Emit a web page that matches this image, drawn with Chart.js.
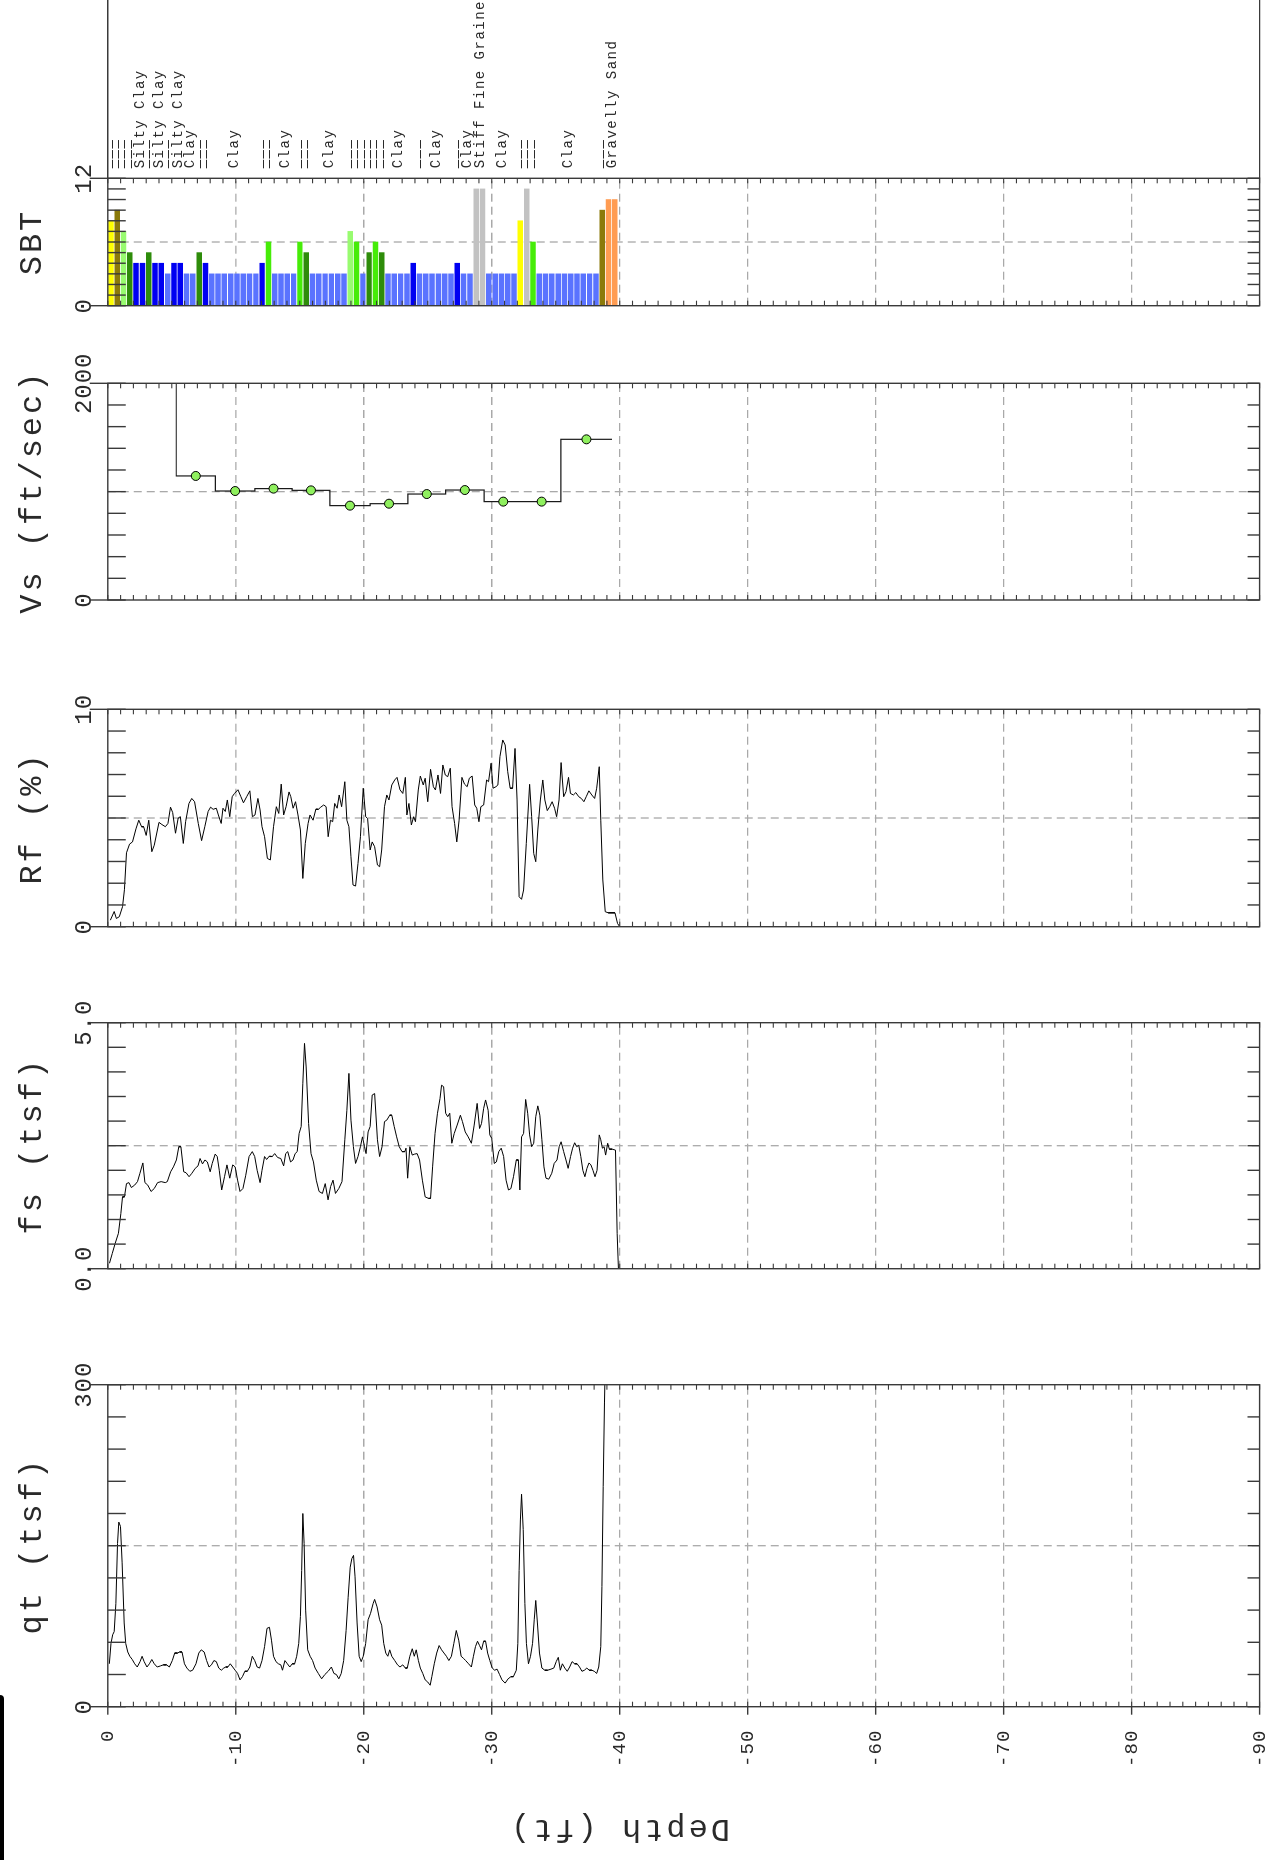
<!DOCTYPE html>
<html>
<head>
<meta charset="utf-8">
<title>CPT log</title>
<script src="https://cdn.jsdelivr.net/npm/chart.js@4.4.1/dist/chart.umd.min.js"></script>
<style>
html,body{margin:0;padding:0;background:#fff;overflow:hidden;width:1273px;height:1860px;}
/* the log is laid out upright (depth down) and turned a quarter turn */
#log{position:absolute;left:0;top:0;width:1860px;height:1273px;transform-origin:0 0;transform:translate(0,1860px) rotate(-90deg);}
#log canvas{position:absolute;top:0;}
#edge{position:absolute;left:0;top:1695px;width:4px;height:165px;background:#000;border-radius:0 5px 0 0;}
</style>
</head>
<body>
<div id="log"></div>
<div id="edge"></div>
<script>
/* =========================
   CPT SOUNDING DATA
========================= */

const depthTicks = [0,-10,-20,-30,-40,-50,-60,-70,-80,-90];

const qtTicks = ["0","300"];
const fsTicks = ["0.0","5.0"];
const rfTicks = ["0","10"];
const vsTicks = ["0","2000"];
const sbtTicks = ["0","12"];

// tip resistance qt (tsf)
const qtDepth = [
-0.12,-0.25,-0.38,-0.5,-0.63,-0.76,-0.86,-0.99,-1.12,-1.28,
-1.4,-1.56,-1.72,-1.91,-2.1,-2.3,-2.52,-2.68,-2.84,-3.06,
-3.25,-3.44,-3.63,-3.86,-4.11,-4.34,-4.59,-4.81,-5.04,-5.23,
-5.45,-5.61,-5.8,-5.99,-6.18,-6.41,-6.63,-6.89,-7.11,-7.3,
-7.53,-7.72,-7.91,-8.1,-8.29,-8.48,-8.67,-8.87,-9.06,-9.22,
-9.38,-9.57,-9.76,-9.95,-10.14,-10.33,-10.52,-10.71,-10.9,-11.1,
-11.29,-11.48,-11.67,-11.86,-12.05,-12.25,-12.44,-12.63,-12.79,-12.95,
-13.14,-13.33,-13.52,-13.65,-13.84,-14.03,-14.22,-14.41,-14.6,-14.76,
-14.92,-15.05,-15.15,-15.24,-15.34,-15.46,-15.62,-15.81,-16.0,-16.2,
-16.45,-16.71,-16.96,-17.22,-17.47,-17.67,-17.86,-18.05,-18.24,-18.43,
-18.62,-18.78,-18.94,-19.07,-19.2,-19.32,-19.48,-19.64,-19.8,-19.96,
-20.15,-20.34,-20.53,-20.73,-20.85,-21.04,-21.24,-21.4,-21.56,-21.72,
-21.88,-22.03,-22.19,-22.42,-22.64,-22.83,-23.05,-23.25,-23.4,-23.6,
-23.79,-23.95,-24.1,-24.27,-24.42,-24.61,-24.8,-25.0,-25.19,-25.32,
-25.51,-25.7,-25.89,-26.08,-26.27,-26.46,-26.65,-26.85,-27.04,-27.23,
-27.42,-27.61,-27.8,-27.96,-28.19,-28.41,-28.57,-28.73,-28.89,-29.05,
-29.2,-29.37,-29.52,-29.68,-29.85,-30.04,-30.23,-30.42,-30.61,-30.8,
-31.05,-31.28,-31.5,-31.69,-31.92,-32.04,-32.14,-32.24,-32.33,-32.46,
-32.59,-32.71,-32.87,-33.03,-33.19,-33.32,-33.44,-33.57,-33.73,-33.92,
-34.15,-34.37,-34.63,-34.85,-35.04,-35.2,-35.36,-35.52,-35.71,-35.9,
-36.09,-36.28,-36.48,-36.67,-36.86,-37.05,-37.24,-37.43,-37.62,-37.82,
-38.01,-38.2,-38.36,-38.52,-38.61,-38.71,-38.81,-38.87,-39.0
];
const qtValue = [
40,59,67,70,96,152,172,168,134,78,
59,51,47,44,40,37,42,47,42,37,
40,44,40,37,38,39,39,37,43,50,
50,51,51,40,36,33,34,40,50,53,
51,43,37,39,43,42,36,34,36,37,
37,40,37,34,31,25,28,33,33,37,
47,43,37,36,43,56,73,74,62,47,
42,40,39,34,43,40,37,40,40,47,
59,84,127,180,152,90,53,47,43,36,
31,26,30,33,37,31,30,26,31,43,
71,102,130,138,141,121,78,47,42,47,
59,81,87,96,100,93,81,76,59,50,
47,53,47,43,39,37,39,36,36,47,
54,47,53,43,36,31,25,23,20,28,
40,50,57,53,50,47,43,47,59,71,
62,47,45,43,40,37,47,56,61,57,
53,61,61,50,43,36,34,35,30,25,
22,26,28,28,34,59,127,174,198,165,
96,59,40,47,59,81,99,78,50,36,
34,34,35,36,42,46,34,40,36,33,
37,42,40,40,37,33,34,36,34,34,
33,31,37,56,112,205,283,320,400
];

// sleeve friction fs (tsf)
const fsDepth = [
-0.13,-0.35,-0.57,-0.83,-1.02,-1.15,-1.3,-1.46,-1.65,-1.84,
-2.1,-2.32,-2.51,-2.74,-2.9,-3.12,-3.38,-3.63,-3.89,-4.17,
-4.49,-4.65,-4.91,-5.13,-5.36,-5.55,-5.71,-5.93,-6.12,-6.35,
-6.57,-6.83,-7.05,-7.21,-7.4,-7.59,-7.78,-8.0,-8.16,-8.39,
-8.55,-8.71,-8.9,-9.12,-9.31,-9.53,-9.76,-9.95,-10.14,-10.33,
-10.56,-10.78,-11.04,-11.29,-11.48,-11.67,-11.9,-12.05,-12.25,-12.41,
-12.63,-12.85,-13.04,-13.27,-13.52,-13.74,-13.9,-14.06,-14.28,-14.47,
-14.64,-14.8,-14.95,-15.11,-15.24,-15.37,-15.5,-15.69,-15.88,-16.07,
-16.29,-16.51,-16.77,-16.99,-17.21,-17.41,-17.6,-17.79,-18.05,-18.3,
-18.52,-18.68,-18.84,-19.0,-19.19,-19.36,-19.55,-19.74,-19.9,-20.06,
-20.18,-20.34,-20.5,-20.66,-20.85,-21.07,-21.24,-21.43,-21.62,-21.8,
-22.03,-22.19,-22.38,-22.57,-22.77,-22.99,-23.21,-23.3,-23.43,-23.6,
-23.79,-23.98,-24.17,-24.36,-24.58,-24.8,-25.06,-25.22,-25.38,-25.57,
-25.76,-25.96,-26.08,-26.24,-26.4,-26.56,-26.72,-26.88,-27.07,-27.3,
-27.55,-27.71,-27.93,-28.16,-28.41,-28.63,-28.86,-29.05,-29.2,-29.37,
-29.52,-29.72,-29.85,-30.0,-30.2,-30.36,-30.55,-30.74,-30.93,-31.12,
-31.31,-31.5,-31.7,-31.92,-32.08,-32.2,-32.33,-32.49,-32.65,-32.81,
-32.96,-33.12,-33.28,-33.44,-33.6,-33.76,-33.92,-34.08,-34.24,-34.46,
-34.69,-34.88,-35.1,-35.27,-35.42,-35.62,-35.8,-35.97,-36.16,-36.32,
-36.48,-36.64,-36.8,-36.96,-37.12,-37.28,-37.44,-37.6,-37.75,-37.91,
-38.07,-38.23,-38.4,-38.52,-38.65,-38.78,-38.9,-39.06,-39.19,-39.41,
-39.67,-39.8,-39.9
];
const fsValue = [
0.11,0.31,0.51,0.72,1.12,1.46,1.46,1.73,1.75,1.65,
1.7,1.77,1.94,2.15,1.75,1.7,1.57,1.63,1.75,1.77,
1.75,1.77,1.97,2.07,2.21,2.48,2.48,1.97,1.95,1.87,
1.94,2.04,2.09,2.24,2.13,2.21,2.17,1.97,2.14,2.33,
2.28,2.0,1.6,1.87,2.11,1.84,2.11,2.07,1.8,1.57,
1.63,1.9,2.28,2.38,2.28,2.0,1.75,2.0,2.28,2.22,
2.29,2.28,2.34,2.26,2.24,2.09,2.34,2.38,2.17,2.21,
2.34,2.38,2.75,2.89,3.77,4.58,4.1,2.95,2.34,2.17,
1.8,1.57,1.53,1.73,1.4,1.67,1.8,1.53,1.63,1.77,
2.62,3.22,3.97,3.02,2.48,2.14,2.28,2.48,2.68,2.48,
2.34,2.78,2.89,3.53,3.56,2.62,2.28,2.48,2.99,3.02,
3.12,3.12,2.89,2.68,2.48,2.38,2.38,2.45,1.84,2.48,
2.31,2.33,2.34,2.21,1.8,1.46,1.43,1.43,2.07,2.75,
3.16,3.46,3.73,3.7,3.16,3.09,3.16,2.55,2.75,2.92,
3.12,2.99,2.78,2.68,2.55,2.92,3.36,2.85,2.95,3.26,
3.43,3.22,2.72,2.65,2.14,2.17,2.38,2.45,2.28,1.8,
1.6,1.63,1.87,2.21,2.21,1.6,2.68,2.75,3.44,3.16,
2.72,2.48,2.55,3.09,3.31,3.12,2.62,2.07,1.84,1.82,
1.94,2.14,2.21,2.48,2.58,2.38,2.21,2.04,2.28,2.45,
2.56,2.48,2.51,2.28,2.0,1.87,2.04,2.15,2.11,2.0,
1.87,2.0,2.72,2.62,2.45,2.48,2.31,2.55,2.43,2.43,
2.41,0.72,0
];

// friction ratio Rf (%)
const rfDepth = [
-0.2,-0.5,-0.67,-0.9,-1.15,-1.3,-1.46,-1.7,-1.93,-2.2,
-2.42,-2.64,-2.8,-3.0,-3.2,-3.44,-3.63,-4.0,-4.23,-4.5,
-4.7,-4.9,-5.07,-5.29,-5.5,-5.67,-5.9,-6.08,-6.34,-6.56,
-6.78,-7.07,-7.33,-7.58,-7.84,-8.03,-8.23,-8.48,-8.64,-8.86,
-9.0,-9.18,-9.34,-9.53,-9.72,-9.9,-10.17,-10.4,-10.6,-10.87,
-11.1,-11.3,-11.5,-11.73,-11.9,-12.05,-12.25,-12.47,-12.7,-12.95,
-13.17,-13.36,-13.55,-13.74,-13.93,-14.16,-14.3,-14.48,-14.67,-14.86,
-15.05,-15.24,-15.43,-15.65,-15.8,-16.04,-16.26,-16.45,-16.64,-16.87,
-17.06,-17.22,-17.4,-17.57,-17.73,-17.92,-18.08,-18.27,-18.52,-18.68,
-18.84,-19.0,-19.16,-19.36,-19.55,-19.74,-19.96,-20.15,-20.3,-20.5,
-20.66,-20.85,-21.07,-21.24,-21.4,-21.62,-21.8,-21.97,-22.19,-22.42,
-22.6,-22.83,-23.05,-23.25,-23.37,-23.53,-23.72,-23.9,-24.04,-24.26,
-24.42,-24.65,-24.8,-25.0,-25.22,-25.44,-25.6,-25.8,-26.0,-26.18,
-26.37,-26.56,-26.76,-26.9,-27.1,-27.27,-27.45,-27.67,-27.87,-28.08,
-28.25,-28.47,-28.67,-28.83,-29.0,-29.15,-29.37,-29.6,-29.75,-29.95,
-30.1,-30.33,-30.48,-30.64,-30.86,-31.05,-31.25,-31.44,-31.63,-31.82,
-31.98,-32.14,-32.33,-32.49,-32.7,-32.96,-33.12,-33.28,-33.44,-33.6,
-33.8,-33.99,-34.15,-34.34,-34.53,-34.72,-34.91,-35.07,-35.26,-35.42,
-35.62,-35.8,-36.0,-36.15,-36.38,-36.57,-36.8,-37.0,-37.2,-37.4,
-37.59,-37.82,-38.04,-38.2,-38.4,-38.52,-38.68,-38.87,-39.1,-39.4,
-39.63,-39.83,-40.0
];
const rfValue = [
0.3,0.7,0.38,0.46,0.92,1.7,3.4,3.8,3.9,4.5,
4.9,4.6,4.6,4.2,4.9,3.45,3.75,4.8,4.7,4.6,
4.75,5.5,5.25,4.3,5.0,5.06,3.83,4.83,5.67,5.9,
5.75,4.75,3.96,4.6,5.3,5.5,5.4,5.45,5.14,4.75,
5.45,5.3,5.83,5.06,5.98,6.13,6.3,5.98,5.7,6.0,
6.25,5.06,5.14,5.9,5.37,4.6,4.14,3.14,3.07,4.6,
5.52,5.21,6.56,5.14,5.52,6.2,5.98,5.45,5.75,5.14,
4.45,2.22,3.83,4.75,5.14,4.9,5.41,5.4,5.5,5.6,
5.52,4.14,4.9,4.83,5.67,5.45,6.06,5.52,6.67,4.9,
4.6,3.22,1.92,1.87,2.91,4.14,6.37,5.06,4.98,3.53,
3.9,3.68,2.84,2.76,3.53,5.52,6.06,5.83,6.52,6.75,
6.87,6.3,6.13,6.87,5.14,5.67,4.68,5.06,4.83,6.29,
6.93,6.52,6.83,5.75,7.24,6.44,6.29,6.98,6.13,7.44,
6.98,6.9,7.29,5.52,4.75,3.9,4.9,6.87,6.56,6.44,
6.83,6.93,5.6,5.45,4.83,5.52,5.6,6.75,6.67,7.52,
6.37,6.44,6.52,7.82,8.59,8.36,7.13,6.37,6.37,8.2,
5.83,1.38,1.26,1.69,3.83,6.55,5.06,3.37,2.99,4.45,
5.83,6.75,5.83,5.34,5.52,5.75,5.45,5.06,5.83,7.55,
5.98,6.21,6.87,6.13,6.06,6.17,5.98,5.9,5.75,6.0,
6.25,6.06,5.9,6.37,7.36,4.9,2.15,0.69,0.64,0.64,
0.64,0.15,0
];

// shear wave velocity layers Vs (ft/sec)
const vsTop    = [0,-5.35,-8.4,-11.5,-14.4,-17.35,-20.5,-23.45,-26.4,-29.4,-32.4,-35.4];
const vsBottom = [-5.35,-8.4,-11.5,-14.4,-17.35,-20.5,-23.45,-26.4,-29.4,-32.4,-35.4,-39.4];
const vsValue  = [2400,1145,1006,1028,1012,871,889,978,1015,908,908,1483];

// soil behaviour type, one value per 15 cm interval
const sbtDepth = [
-0.25,-0.74,-1.23,-1.72,-2.21,-2.71,-3.2,-3.69,-4.18,-4.68,
-5.17,-5.66,-6.15,-6.64,-7.14,-7.63,-8.12,-8.61,-9.1,-9.6,
-10.09,-10.58,-11.07,-11.57,-12.06,-12.55,-13.04,-13.53,-14.03,-14.52,
-15.01,-15.5,-15.99,-16.49,-16.98,-17.47,-17.96,-18.45,-18.95,-19.44,
-19.93,-20.42,-20.92,-21.41,-21.9,-22.39,-22.88,-23.38,-23.87,-24.36,
-24.85,-25.34,-25.84,-26.33,-26.82,-27.31,-27.8,-28.3,-28.79,-29.28,
-29.77,-30.27,-30.76,-31.25,-31.74,-32.23,-32.73,-33.22,-33.71,-34.2,
-34.69,-35.19,-35.68,-36.17,-36.66,-37.15,-37.65,-38.14,-38.63,-39.12,
-39.62
];
const sbtZone = [
8,9,7,5,4,4,5,4,4,3,
4,4,3,3,5,4,3,3,3,3,
3,3,3,3,4,6,3,3,3,3,
6,5,3,3,3,3,3,3,7,6,
3,5,6,5,3,3,3,3,4,3,
3,3,3,3,3,4,3,3,11,11,
3,3,3,3,3,8,11,6,3,3,
3,3,3,3,3,3,3,3,9,10,
10
];

// layer names written above the SBT track (thin layers get a dash mark)
const THIN = "\u2014\u2014\u2014";
const soilLabelText = [THIN,THIN,THIN,THIN,"Silty Clay",THIN,"Silty Clay",THIN,"Silty Clay","Clay",
THIN,THIN,"Clay",THIN,THIN,"Clay",THIN,THIN,"Clay",THIN,
THIN,THIN,THIN,THIN,THIN,"Clay",THIN,"Clay",THIN,"Clay",
"Stiff Fine Grained","Clay",THIN,THIN,THIN,"Clay",THIN,"Gravelly Sand"];
const soilLabelDepth = [-0.25,-0.74,-1.23,-1.72,-2.46,-3.2,-3.94,-4.68,-5.41,-6.4,
-7.14,-7.63,-9.84,-12.06,-12.55,-13.78,-15.01,-15.5,-17.22,-18.95,
-19.44,-19.93,-20.42,-20.92,-21.41,-22.64,-24.36,-25.59,-27.31,-28.05,
-29.03,-30.76,-32.23,-32.73,-33.22,-35.92,-38.63,-39.37];

/* =========================
   LAYOUT + STYLE
========================= */

const LOG_W = 1860, CANVAS_H = 1313;
const PLOT_TOP = 107.8, PLOT_BOTTOM = 1259.6;
const FONT = "'Liberation Mono', monospace";
const INK = "#2a2a2a";

const zoneColor = {
3:"#5a73ff", 4:"#0000f2", 5:"#2e8c0a", 6:"#46ec08", 7:"#98fb70",
8:"#ffff00", 9:"#8b7a0a", 10:"#ff9c52", 11:"#c2c2c2"
};

function seg(ctx, x1, y1, x2, y2){
  ctx.beginPath(); ctx.moveTo(x1, y1); ctx.lineTo(x2, y2); ctx.stroke();
}

function framePlugin(p){
  return {
    id: "frame_" + p.id,
    beforeDraw(chart){
      chart.ctx.letterSpacing = "1px";
    },
    beforeDatasetsDraw(chart){
      const {ctx, chartArea:a, scales:{x, y}} = chart;
      ctx.save();
      ctx.strokeStyle = "#a9a9a9";
      ctx.lineWidth = 1.3;
      ctx.setLineDash([8,5]);
      depthTicks.forEach(d => {
        if (d === 0 || d === -90) return;
        const py = y.getPixelForValue(d);
        seg(ctx, a.left, py, a.right, py);
      });
      const mx = x.getPixelForValue(p.max / 2);
      seg(ctx, mx, a.top, mx, a.bottom);
      ctx.restore();
    },
    afterDatasetsDraw(chart){
      const {ctx, chartArea:a, scales:{x, y}} = chart;
      ctx.save();
      ctx.strokeStyle = "#3a3a3a";
      ctx.lineWidth = 1.4;
      ctx.strokeRect(a.left, a.top, a.right - a.left, a.bottom - a.top);

      // value ticks
      const n = Math.round(p.max / p.step);
      for (let i = 0; i <= n; i++){
        const px = x.getPixelForValue(i * p.step);
        seg(ctx, px, a.top, px, a.top + 18);
        seg(ctx, px, a.bottom, px, a.bottom - 12);
      }
      seg(ctx, a.left, a.top - 18, a.left, a.top);
      seg(ctx, a.right, a.top - 18, a.right, a.top);

      // depth ticks every foot
      ctx.lineWidth = 1.1;
      for (let d = 0; d >= -90; d--){
        const py = y.getPixelForValue(d);
        seg(ctx, a.left, py, a.left + 5, py);
        seg(ctx, a.right, py, a.right - 5, py);
      }
      if (p.depthAxis){
        ctx.lineWidth = 1.4;
        depthTicks.forEach(d => {
          const py = y.getPixelForValue(d);
          seg(ctx, a.left - 8, py, a.left, py);
        });
      }

      // panel title
      ctx.fillStyle = INK;
      ctx.letterSpacing = "3px";
      ctx.font = "32px " + FONT;
      ctx.textAlign = "center";
      ctx.textBaseline = "alphabetic";
      ctx.fillText(p.title, (a.left + a.right) / 2, 41);

      if (p.depthAxis){
        ctx.save();
        ctx.translate(40, 619);
        ctx.rotate(-Math.PI / 2);
        ctx.fillText("Depth (ft)", 0, 0);
        ctx.restore();
      }

      // soil names above the SBT track
      if (p.labels){
        ctx.lineWidth = 1.4;
        seg(ctx, a.right, a.top, chart.width, a.top);
        seg(ctx, a.right, a.bottom, chart.width, a.bottom);
        ctx.letterSpacing = "1.5px";
        ctx.font = "14px " + FONT;
        ctx.textAlign = "left";
        ctx.textBaseline = "middle";
        soilLabelText.forEach((t, i) => {
          ctx.fillText(t, a.right + 10, y.getPixelForValue(soilLabelDepth[i]) + 1);
        });
      }
      ctx.restore();
    }
  };
}

function addPanel(p, type, datasets){
  const left = p.depthAxis ? 0 : Math.floor(p.u0 - 40);
  const right = p.labels ? LOG_W : Math.ceil(p.u1 + 40);
  const cv = document.createElement("canvas");
  cv.width = right - left;
  cv.height = CANVAS_H;
  cv.style.left = left + "px";
  document.getElementById("log").appendChild(cv);

  new Chart(cv.getContext("2d"), {
    type: type,
    data: {datasets: datasets},
    options: {
      responsive: false,
      animation: false,
      events: [],
      indexAxis: "y",
      layout: {
        padding: {
          left: p.depthAxis ? 0 : p.u0 - left,
          right: right - p.u1,
          top: 0,
          bottom: CANVAS_H - PLOT_BOTTOM
        }
      },
      plugins: {legend: {display: false}, tooltip: {enabled: false}},
      scales: {
        x: {
          type: "linear",
          position: "top",
          min: 0,
          max: p.max,
          grid: {display: false, drawTicks: false},
          border: {display: false},
          afterBuildTicks: s => { s.ticks = [{value: 0}, {value: p.max}]; },
          afterFit: s => { s.height = PLOT_TOP; },
          ticks: {
            autoSkip: false, maxRotation: 0, padding: 9, color: INK,
            font: {family: FONT, size: 24},
            callback: (v, i) => p.tickLabels[i]
          }
        },
        y: {
          type: "linear",
          position: "left",
          offset: false,
          min: -90,
          max: 0,
          display: !!p.depthAxis,
          grid: {display: false, drawTicks: false},
          border: {display: false},
          afterBuildTicks: s => { s.ticks = depthTicks.map(v => ({value: v})); },
          afterFit: s => { s.width = p.depthAxis ? p.u0 : 0; },
          ticks: {
            padding: 23, color: INK,
            font: {family: FONT, size: 19},
            callback: v => String(v)
          }
        }
      }
    },
    plugins: [framePlugin(p)]
  });
}

function trace(depths, values){
  return {
    data: depths.map((d, i) => ({x: values[i], y: d})),
    borderColor: "#000",
    borderWidth: 1,
    pointRadius: 0,
    tension: 0,
    fill: false
  };
}

document.addEventListener("DOMContentLoaded", () => {

addPanel({id:"qt", u0:153.3, u1:475.3, max:300, step:30, tickLabels:qtTicks, title:"qt (tsf)", depthAxis:true},
  "line", [trace(qtDepth, qtValue)]);

addPanel({id:"fs", u0:591.3, u1:837.3, max:5, step:0.5, tickLabels:fsTicks, title:"fs (tsf)"},
  "line", [trace(fsDepth, fsValue)]);

addPanel({id:"rf", u0:933.3, u1:1150.7, max:10, step:1, tickLabels:rfTicks, title:"Rf (%)"},
  "line", [trace(rfDepth, rfValue)]);

const vsSteps = vsValue.flatMap((v, i) => [{x: v, y: vsTop[i]}, {x: v, y: vsBottom[i]}]);
const vsMid = vsValue.map((v, i) => ({x: v, y: (vsTop[i] + vsBottom[i]) / 2}));

addPanel({id:"vs", u0:1260, u1:1476.7, max:2000, step:200, tickLabels:vsTicks, title:"Vs (ft/sec)"},
  "line", [
    {
      data: vsMid,
      showLine: false,
      pointRadius: 4.5,
      pointBackgroundColor: "#8ff05e",
      pointBorderColor: "#000",
      pointBorderWidth: 1
    },
    {
      data: vsSteps,
      borderColor: "#1a1a1a",
      borderWidth: 1.2,
      pointRadius: 0,
      tension: 0,
      fill: false
    }
  ]);

addPanel({id:"sbt", u0:1554.3, u1:1681.7, max:12, step:1, tickLabels:sbtTicks, title:"SBT", labels:true},
  "bar", [{
    data: sbtDepth.map((d, i) => ({x: sbtZone[i], y: d})),
    backgroundColor: sbtZone.map(z => zoneColor[z]),
    borderWidth: 0,
    barThickness: 4.8
  }]);

});
</script>
</body>
</html>
